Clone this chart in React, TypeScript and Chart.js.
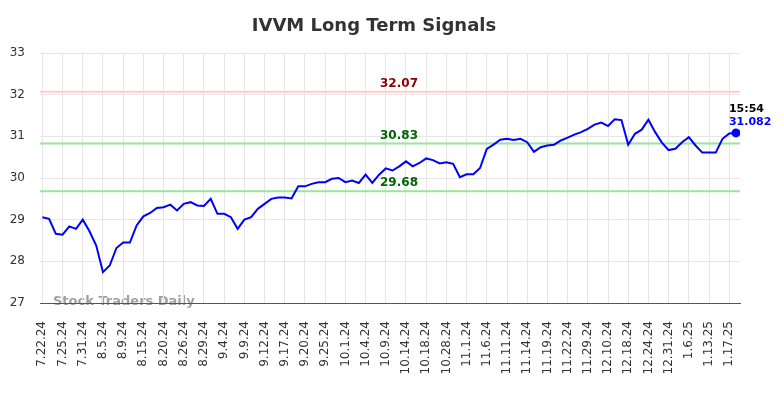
import { useEffect, useRef } from 'react';
import { Chart, registerables } from 'chart.js';

Chart.register(...registerables);

const title = 'IVVM Long Term Signals';
const tickLabels = [
  '7.22.24', '7.25.24', '7.31.24', '8.5.24', '8.9.24', '8.15.24', '8.20.24', '8.26.24', '8.29.24',
  '9.4.24', '9.9.24', '9.12.24', '9.17.24', '9.20.24', '9.25.24', '10.1.24', '10.4.24', '10.9.24',
  '10.14.24', '10.18.24', '10.28.24', '11.1.24', '11.6.24', '11.11.24', '11.14.24', '11.19.24',
  '11.22.24', '11.29.24', '12.10.24', '12.18.24', '12.24.24', '12.31.24', '1.6.25', '1.13.25', '1.17.25',
];
const ticksEvery = 3;
const values = [
  29.06, 29.02, 28.66, 28.64, 28.84, 28.78, 29.0, 28.72, 28.38, 27.74,
  27.9, 28.32, 28.45, 28.45, 28.86, 29.08, 29.16, 29.28, 29.3, 29.36,
  29.22, 29.38, 29.42, 29.34, 29.33, 29.5, 29.14, 29.14, 29.06, 28.78,
  29.0, 29.06, 29.26, 29.38, 29.5, 29.53, 29.53, 29.51, 29.8, 29.8,
  29.86, 29.9, 29.9, 29.98, 30.0, 29.9, 29.94, 29.88, 30.08, 29.88,
  30.08, 30.23, 30.18, 30.28, 30.4, 30.28, 30.36, 30.47, 30.43, 30.35,
  30.38, 30.34, 30.02, 30.09, 30.09, 30.24, 30.7, 30.8, 30.92, 30.94,
  30.91, 30.94, 30.86, 30.63, 30.74, 30.78, 30.8, 30.9, 30.97, 31.04,
  31.1, 31.18, 31.28, 31.33, 31.25, 31.41, 31.39, 30.8, 31.06, 31.16,
  31.4, 31.1, 30.85, 30.67, 30.7, 30.86, 30.98, 30.78, 30.61, 30.61,
  30.61, 30.94, 31.07, 31.082,
];
const resistance = 32.07;
const supportHigh = 30.83;
const supportLow = 29.68;
const lastTime = '15:54';
const watermark = 'Stock Traders Daily';

const FONT = '"DejaVu Sans", sans-serif';

const overlayPlugin = {
  id: 'overlay',
  beforeDraw(chart: any) {
    const { ctx, chartArea } = chart;
    ctx.save();
    ctx.font = `bold 13px ${FONT}`;
    ctx.fillStyle = '#a0a0a0';
    ctx.textAlign = 'left';
    ctx.textBaseline = 'middle';
    ctx.fillText(watermark, chartArea.left + 13, chartArea.bottom - 1);
    ctx.restore();
  },
  beforeDatasetsDraw(chart: any) {
    const { ctx, chartArea, scales } = chart;
    const y = scales.y;
    const lines = [
      { v: resistance, color: '#ffcccc', text: '#8b0000' },
      { v: supportHigh, color: '#99e699', text: '#006400' },
      { v: supportLow, color: '#99e699', text: '#006400' },
    ];
    ctx.save();
    for (const l of lines) {
      const py = y.getPixelForValue(l.v);
      ctx.strokeStyle = l.color;
      ctx.lineWidth = 2;
      ctx.beginPath();
      ctx.moveTo(chartArea.left, py);
      ctx.lineTo(chartArea.right, py);
      ctx.stroke();
      ctx.font = `bold 12px ${FONT}`;
      ctx.fillStyle = l.text;
      ctx.textAlign = 'center';
      ctx.textBaseline = 'middle';
      ctx.fillText(l.v.toFixed(2), 399, py - 8);
    }
    ctx.restore();
  },
  afterDatasetsDraw(chart: any) {
    const { ctx, scales } = chart;
    const i = values.length - 1;
    const px = scales.x.getPixelForValue(i);
    const py = scales.y.getPixelForValue(values[i]);
    ctx.save();
    ctx.font = `bold 11px ${FONT}`;
    ctx.textAlign = 'left';
    ctx.textBaseline = 'middle';
    ctx.fillStyle = '#000000';
    ctx.fillText(lastTime, px - 7, py - 24);
    ctx.fillStyle = '#0000ff';
    ctx.fillText(String(values[i]), px - 7, py - 11);
    ctx.restore();
  },
  afterDraw(chart: any) {
    const { ctx } = chart;
    ctx.save();
    ctx.font = `bold 18px ${FONT}`;
    ctx.fillStyle = '#333333';
    ctx.textAlign = 'center';
    ctx.textBaseline = 'middle';
    ctx.fillText(title, 374, 26);
    ctx.restore();
  },
};

export default function App() {
  const ref = useRef<HTMLCanvasElement | null>(null);
  useEffect(() => {
    if (!ref.current) return;
    const chart = new Chart(ref.current, {
      type: 'line',
      data: {
        datasets: [
          {
            data: values.map((v, i) => ({ x: i, y: v })),
            borderColor: '#0000ff',
            backgroundColor: '#0000ff',
            borderWidth: 2,
            tension: 0,
            pointRadius: (c: any) => (c.dataIndex === values.length - 1 ? 4.5 : 0),
            pointBorderWidth: 0,
            fill: false,
          },
        ],
      },
      options: {
        animation: false,
        responsive: true,
        maintainAspectRatio: false,
        layout: { padding: { top: 53, right: 44, bottom: 0, left: 0 } },
        plugins: {
          legend: { display: false },
          title: { display: false },
          tooltip: { enabled: false },
        },
        scales: {
          x: {
            type: 'linear',
            min: -0.35,
            max: values.length - 1 + 0.6,
            afterBuildTicks: (axis: any) => {
              axis.ticks = tickLabels.map((_, k) => ({ value: k * ticksEvery }));
            },
            afterFit: (axis: any) => {
              axis.height = 95;
            },
            ticks: {
              autoSkip: false,
              minRotation: 90,
              maxRotation: 90,
              padding: 18,
              color: '#333333',
              font: { family: FONT, size: 12 },
              callback: (v: any) => tickLabels[Math.round(Number(v) / ticksEvery)] ?? '',
            },
            grid: { color: '#e6e6e6', drawTicks: false, lineWidth: 1 },
            border: { display: true, color: '#555555', width: 1 },
          },
          y: {
            min: 27,
            max: 33,
            afterFit: (axis: any) => {
              axis.width = 40;
            },
            ticks: {
              stepSize: 1,
              padding: 15,
              color: '#333333',
              font: { family: FONT, size: 12 },
            },
            grid: { color: '#e6e6e6', drawTicks: false, lineWidth: 1 },
            border: { display: false },
          },
        },
      },
      plugins: [overlayPlugin],
    });
    return () => chart.destroy();
  }, []);
  return (
    <div style={{ position: 'fixed', left: 0, top: 0, width: 784, height: 398 }}>
      <canvas ref={ref} />
    </div>
  );
}
